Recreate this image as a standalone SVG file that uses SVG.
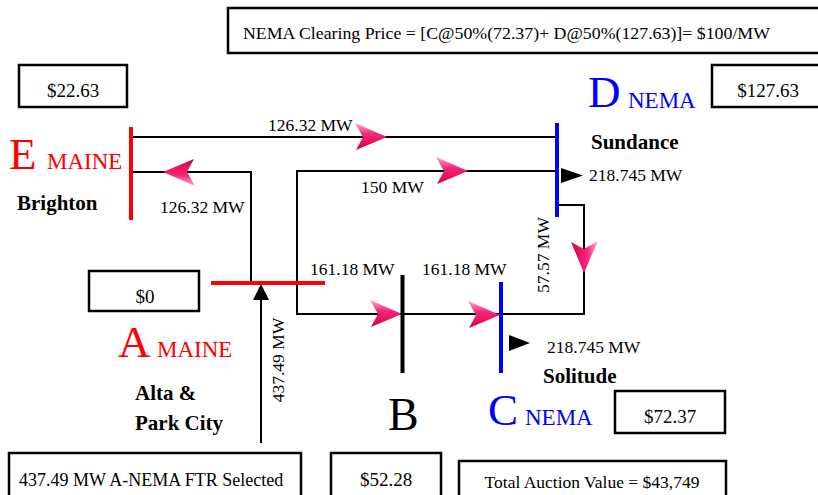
<svg xmlns="http://www.w3.org/2000/svg" xmlns:xlink="http://www.w3.org/1999/xlink" width="818" height="495" viewBox="0 0 818 495">
<style>
text{font-family:"Liberation Serif","Times New Roman",serif;fill:#000}
.box{fill:#fff;stroke:#000;stroke-width:2.5}
.line{fill:none;stroke:#000;stroke-width:2}
.bus{stroke-width:4;fill:none}
.mw{font-size:17.5px}
.price{font-size:19px;text-anchor:middle}
.lbl{font-size:21px;font-weight:bold}
.big{font-size:45px}
.sub{font-size:23px}
.red{fill:#ff0000}
.blue{fill:#0000ff}
</style>
<defs>
<linearGradient id="pg" x1="0" y1="0" x2="0" y2="1">
<stop offset="0" stop-color="#f9b0cc"/>
<stop offset="0.4" stop-color="#f0287a"/>
<stop offset="0.75" stop-color="#e8105a"/>
<stop offset="1" stop-color="#b00c3c"/>
</linearGradient>
<path id="pa" d="M0,0 L-32,-14 L-24,0 L-31,13 Z" fill="url(#pg)"/>
</defs>

<g id="connectors">
<path class="line" d="M132,137 H557"/>
<path class="line" d="M132,172 H251 V283"/>
<path class="line" d="M557,171 H297 V314 H584 V205 H557"/>
<path class="line" d="M261,443 V298"/>
<polygon points="261,284 253,300 269,300" fill="#000"/>
<polygon points="561,168 583,175.5 561,183" fill="#000"/>
<polygon points="509,335 530,343 509,351" fill="#000"/>
<use xlink:href="#pa" transform="translate(387,137)"/>
<use xlink:href="#pa" transform="translate(163,172) rotate(180)"/>
<use xlink:href="#pa" transform="translate(468,171)"/>
<use xlink:href="#pa" transform="translate(402,314)"/>
<use xlink:href="#pa" transform="translate(500,315)"/>
<use xlink:href="#pa" transform="translate(584,273) rotate(90)"/>
<text class="mw" x="268" y="131">126.32 MW</text>
<text class="mw" x="160" y="213">126.32 MW</text>
<text class="mw" x="361" y="193">150 MW</text>
<text class="mw" x="589" y="181">218.745 MW</text>
<text class="mw" x="310" y="275">161.18 MW</text>
<text class="mw" x="422" y="275">161.18 MW</text>
<text class="mw" x="547" y="353">218.745 MW</text>
<text class="mw" text-anchor="middle" transform="translate(549,255) rotate(-90)">57.57 MW</text>
<text class="mw" text-anchor="middle" transform="translate(284,360) rotate(-90)">437.49 MW</text>
</g>

<g id="title">
<rect class="box" x="228" y="8" width="610" height="45"/>
<text x="243" y="39" font-size="16" textLength="527" lengthAdjust="spacingAndGlyphs">NEMA Clearing Price = [C@50%(72.37)+ D@50%(127.63)]= $100/MW</text>
</g>

<g id="node-E">
<line class="bus" x1="131" y1="127" x2="131" y2="220" stroke="#ff0000"/>
<text class="big red" x="9" y="169">E</text>
<text class="sub red" x="47" y="169">MAINE</text>
<text class="lbl" x="17" y="210">Brighton</text>
<rect class="box" x="19" y="65" width="108" height="42"/>
<text class="price" x="73" y="97">$22.63</text>
</g>

<g id="node-D">
<line class="bus" x1="557" y1="123" x2="557" y2="217" stroke="#0000ff"/>
<text class="big blue" x="588" y="107">D</text>
<text class="sub blue" x="628" y="108">NEMA</text>
<text class="lbl" x="591" y="149">Sundance</text>
<rect class="box" x="712" y="65" width="130" height="42"/>
<text class="price" x="768" y="97">$127.63</text>
</g>

<g id="node-A">
<line class="bus" x1="211" y1="283" x2="325" y2="283" stroke="#ff0000"/>
<rect class="box" x="89" y="271" width="110" height="40"/>
<text class="price" x="145" y="303">$0</text>
<text class="big red" x="118" y="357">A</text>
<text class="sub red" x="157" y="357">MAINE</text>
<text class="lbl" x="135" y="400">Alta &amp;</text>
<text class="lbl" x="135" y="430">Park City</text>
</g>

<g id="node-B">
<line class="bus" x1="402.5" y1="275" x2="402.5" y2="373" stroke="#000"/>
<text x="388" y="430" font-size="46">B</text>
<rect class="box" x="331" y="453" width="110" height="60"/>
<text class="price" x="386" y="486">$52.28</text>
</g>

<g id="node-C">
<line class="bus" x1="501" y1="282" x2="501" y2="373" stroke="#0000ff"/>
<text class="lbl" x="543" y="383">Solitude</text>
<text class="big blue" x="488" y="425">C</text>
<text class="sub blue" x="525" y="425">NEMA</text>
<rect class="box" x="615" y="391" width="110" height="42"/>
<text class="price" x="670" y="423">$72.37</text>
</g>

<g id="ftr">
<rect class="box" x="9" y="453" width="292" height="60"/>
<text x="19" y="486" font-size="18">437.49 MW A-NEMA FTR Selected</text>
</g>

<g id="total">
<rect class="box" x="459" y="461" width="267" height="50"/>
<text x="592" y="488" font-size="17.5" text-anchor="middle">Total Auction Value = $43,749</text>
</g>
</svg>
